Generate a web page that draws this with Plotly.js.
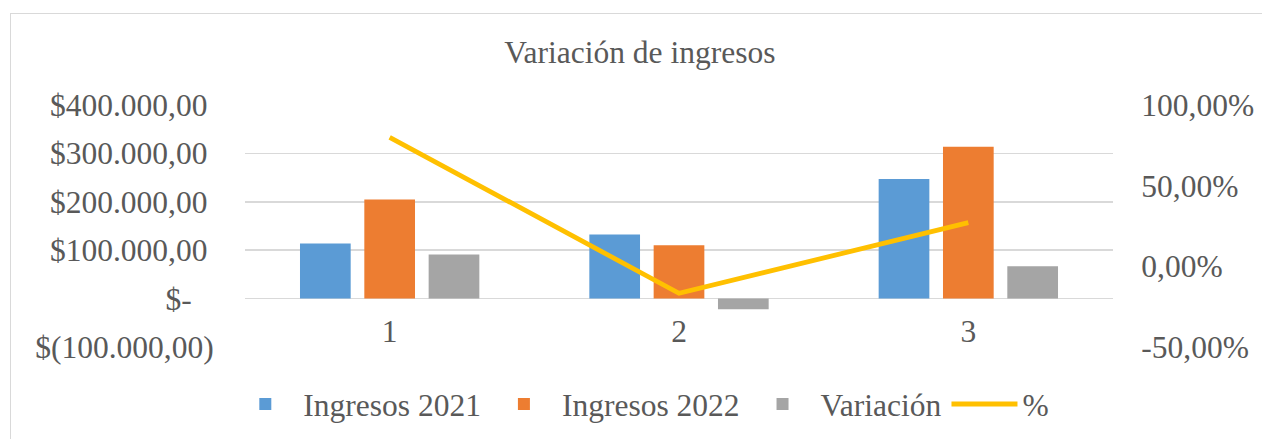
<!DOCTYPE html>
<html>
<head>
<meta charset="utf-8">
<script src="https://cdn.plot.ly/plotly-3.0.1.min.js"></script>
<style>
  html, body { margin: 0; padding: 0; background: #ffffff; font-family: 'Liberation Serif', serif; }
  #wrap { position: relative; width: 1262px; height: 439px; overflow: hidden; }
  #chart { position: absolute; left: 0; top: 0; width: 1262px; height: 439px; }
  #frame { position: absolute; left: 10px; top: 13px; width: 1300px; height: 500px;
           border: 1.5px solid #d9d9d9; pointer-events: none; z-index: 5; box-sizing: border-box; }
</style>
</head>
<body>
<div id="wrap">
  <div id="chart"></div>
  <div id="frame"></div>
</div>
<script>
// ---- data ----
const categories = ['1', '2', '3'];
const ingresos2021 = [113900, 132500, 247000];
const ingresos2022 = [205000, 110400, 313900];
const variacion = [91100, -22100, 66900];
const porcentaje = [0.800, -0.167, 0.271];

const leftTickVals = [-100000, 0, 100000, 200000, 300000, 400000];
const leftTickText = ['$(100.000,00)', '$-\u00a0\u00a0\u2009', '$100.000,00\u2009', '$200.000,00\u2009', '$300.000,00\u2009', '$400.000,00\u2009'];
const rightTickVals = [-0.5, 0, 0.5, 1.0];
const rightTickText = ['-50,00%', '0,00%', '50,00%', '100,00%'];

const seriesNames = ['Ingresos 2021', 'Ingresos 2022', 'Variación', '%'];
const chartTitle = 'Variación de ingresos';

// ---- styles ----
const FONT = 'Liberation Serif';
const FS = 31.5;
const TXT = '#595959';
const GRID = '#d9d9d9';

function draw() {
  const traces = [
    { type: 'bar', name: seriesNames[0], x: categories, y: ingresos2021,
      marker: { color: '#5B9BD5' }, yaxis: 'y', hoverinfo: 'skip' },
    { type: 'bar', name: seriesNames[1], x: categories, y: ingresos2022,
      marker: { color: '#ED7D31' }, yaxis: 'y', hoverinfo: 'skip' },
    { type: 'bar', name: seriesNames[2], x: categories, y: variacion,
      marker: { color: '#A5A5A5' }, yaxis: 'y', hoverinfo: 'skip' },
    { type: 'scatter', mode: 'lines', name: seriesNames[3], x: categories, y: porcentaje,
      line: { color: '#FFC000', width: 4.8 }, yaxis: 'y2', hoverinfo: 'skip' }
  ];

  const layout = {
    width: 1262, height: 439,
    margin: { l: 245, r: 149, t: 105, b: 92, pad: 0 },
    paper_bgcolor: '#ffffff', plot_bgcolor: '#ffffff',
    font: { family: FONT, size: FS, color: TXT },
    title: { text: chartTitle, font: { family: FONT, size: FS, color: TXT },
             xref: 'container', x: 0.507, xanchor: 'center',
             yref: 'container', y: 1 - 52 / 439, yanchor: 'middle' },
    barmode: 'group', bargap: 0.333, bargroupgap: 0.212,
    showlegend: true,
    legend: { orientation: 'h', xref: 'paper', x: 0.456, xanchor: 'center',
              yref: 'container', y: 1 - 404 / 439, yanchor: 'middle',
              font: { family: FONT, size: FS, color: TXT }, traceorder: 'normal',
              itemwidth: 66, bgcolor: 'rgba(0,0,0,0)' },
    xaxis: { type: 'category', anchor: 'free', position: 0.2,
             showgrid: false, zeroline: false, showline: false,
             ticks: 'outside', ticklen: 5, tickcolor: 'rgba(0,0,0,0)',
             tickfont: { family: FONT, size: FS, color: TXT }, fixedrange: true },
    yaxis: { range: [-100000, 400000], tickvals: leftTickVals, ticktext: leftTickText,
             showgrid: true, gridcolor: GRID, gridwidth: 1.5,
             zeroline: true, zerolinecolor: GRID, zerolinewidth: 1.5,
             showline: false, ticks: 'outside', ticklen: 24, tickcolor: 'rgba(0,0,0,0)',
             tickfont: { family: FONT, size: FS, color: TXT }, fixedrange: true },
    yaxis2: { range: [-0.5, 1.0], tickvals: rightTickVals, ticktext: rightTickText,
              overlaying: 'y', side: 'right', showgrid: false, zeroline: false,
              showline: false, ticks: 'outside', ticklen: 21, tickcolor: 'rgba(0,0,0,0)',
              tickfont: { family: FONT, size: FS, color: TXT }, fixedrange: true }
  };

  Plotly.react('chart', traces, layout, { displayModeBar: false, staticPlot: true });
}

draw();
if (document.fonts && document.fonts.load) {
  document.fonts.load('30px "Liberation Serif"', 'Variación $0,%').then(draw).catch(function () {});
}
</script>
</body>
</html>
